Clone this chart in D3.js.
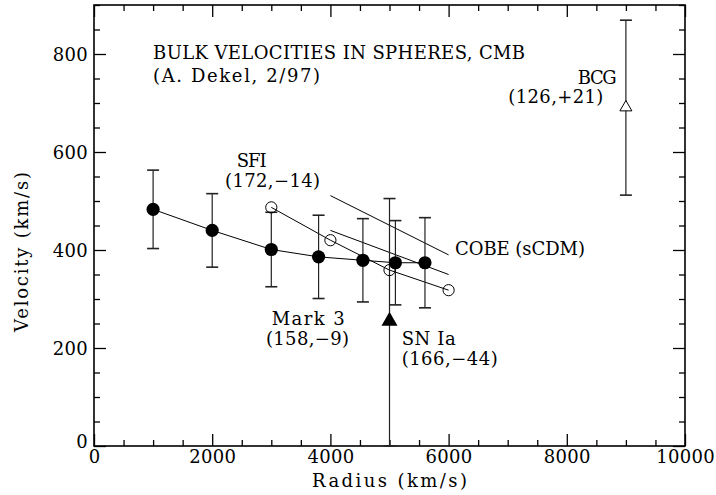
<!DOCTYPE html>
<html>
<head>
<meta charset="utf-8">
<script src="https://cdn.jsdelivr.net/npm/d3@7"></script>
<style>
  html, body { margin: 0; padding: 0; background: #fff; }
  svg { display: block; }
  text { font-family: "DejaVu Serif", "Liberation Serif", serif; fill: #000; }
</style>
</head>
<body>
<svg id="chart" width="716" height="495"></svg>
<script>
// Mark 3 bulk velocities (filled circles)
const mark3Radius = [1000, 2000, 3000, 3800, 4550, 5100, 5600];
const mark3Velocity = [483, 440, 401, 386, 379, 374, 374];
const mark3Error = [80, 75, 76, 85, 85, 86, 92];

// SFI bulk velocities (open circles)
const sfiRadius = [3000, 4000, 5000, 6000];
const sfiVelocity = [487, 420, 359, 318];

// COBE-normalised sCDM expectation (two bounding lines)
const cobeRadius = [4000, 6000];
const cobeUpper = [511, 390];
const cobeLower = [440, 350];

// SN Ia (filled triangle) with its range
const snRadius = [5000];
const snVelocity = [255];
const snLow = [0];
const snHigh = [505];

// BCG (open triangle) with its range
const bcgRadius = [9000];
const bcgVelocity = [691];
const bcgLow = [512];
const bcgHigh = [869];

// Axis ticks
const xMajorTicks = [0, 2000, 4000, 6000, 8000, 10000];
const yMajorTicks = [0, 200, 400, 600, 800];

const svg = d3.select("#chart");
const x = d3.scaleLinear().domain([0, 10000]).range([94, 685]);
const y = d3.scaleLinear().domain([0, 900]).range([446, 5]);

const xMinor = d3.range(0, 10001, 500).filter(v => v % 2000 !== 0);
const yMinor = d3.range(0, 901, 50).filter(v => v % 200 !== 0);

// Inward ticks on all four sides
function ticks(axisFn, scale, pos, vals, size, labelled) {
  const a = axisFn(scale).tickValues(vals).tickSizeInner(-size).tickSizeOuter(0)
    .tickFormat(labelled ? d3.format("d") : "");
  const g = svg.append("g").attr("transform", pos).call(a);
  g.select(".domain").remove();
  g.selectAll("line").attr("stroke", "#000").attr("stroke-width", 1.3);
  return g;
}
const bx = ticks(d3.axisBottom, x, "translate(0,446)", xMajorTicks, 12, true);
ticks(d3.axisBottom, x, "translate(0,446)", xMinor, 6, false);
ticks(d3.axisTop, x, "translate(0,5)", xMajorTicks, 12, false);
ticks(d3.axisTop, x, "translate(0,5)", xMinor, 6, false);
const ly = ticks(d3.axisLeft, y, "translate(94,0)", yMajorTicks, 12, true);
ticks(d3.axisLeft, y, "translate(94,0)", yMinor, 6, false);
ticks(d3.axisRight, y, "translate(685,0)", yMajorTicks, 12, false);
ticks(d3.axisRight, y, "translate(685,0)", yMinor, 6, false);

bx.selectAll("text")
  .attr("y", 17).attr("dy", 0)
  .style("font-size", "18px").style("letter-spacing", "0.3px")
  .style("font-family", "'DejaVu Serif', serif").attr("fill", "#000");
ly.selectAll("text")
  .attr("x", -6).attr("dy", "0.36em")
  .style("font-size", "18px").style("letter-spacing", "0.3px")
  .style("font-family", "'DejaVu Serif', serif").attr("fill", "#000");
// the zero label on the velocity axis sits slightly above the corner
ly.selectAll("text").filter(d => d === 0).attr("dy", "0.1em");

// Frame
svg.append("rect")
  .attr("x", x(0)).attr("y", y(900))
  .attr("width", x(10000) - x(0)).attr("height", y(0) - y(900))
  .attr("fill", "none").attr("stroke", "#000").attr("stroke-width", 1.6);

// Axis titles
svg.append("text")
  .attr("x", x(5000)).attr("y", 487)
  .attr("text-anchor", "middle")
  .attr("textLength", 155)
  .style("font-size", "18px")
  .text("Radius (km/s)");
svg.append("text")
  .attr("transform", `translate(28,${y(396)}) rotate(-90)`)
  .attr("text-anchor", "middle")
  .attr("textLength", 160)
  .style("font-size", "18px")
  .text("Velocity (km/s)");

const line = d3.line().x(d => x(d[0])).y(d => y(d[1]));
const plot = svg.append("g");

// COBE lines
[cobeUpper, cobeLower].forEach(vals => {
  plot.append("path")
    .attr("d", line(d3.zip(cobeRadius, vals)))
    .attr("fill", "none").attr("stroke", "#000").attr("stroke-width", 1);
});

// Connecting lines
plot.append("path")
  .attr("d", line(d3.zip(mark3Radius, mark3Velocity)))
  .attr("fill", "none").attr("stroke", "#000").attr("stroke-width", 1);
plot.append("path")
  .attr("d", line(d3.zip(sfiRadius, sfiVelocity)))
  .attr("fill", "none").attr("stroke", "#000").attr("stroke-width", 1);

// Error bars
function errorBar(r, lo, hi) {
  const g = plot.append("g").attr("stroke", "#222").attr("stroke-width", 1.2);
  g.append("line").attr("x1", x(r)).attr("x2", x(r)).attr("y1", y(lo)).attr("y2", y(hi));
  [lo, hi].forEach(v => {
    g.append("line").attr("x1", x(r) - 6).attr("x2", x(r) + 6)
      .attr("y1", y(v)).attr("y2", y(v)).attr("stroke-width", 1.6);
  });
}
mark3Radius.forEach((r, i) => errorBar(r, mark3Velocity[i] - mark3Error[i], mark3Velocity[i] + mark3Error[i]));
snRadius.forEach((r, i) => errorBar(r, snLow[i], snHigh[i]));
bcgRadius.forEach((r, i) => errorBar(r, bcgLow[i], bcgHigh[i]));

// Markers
plot.selectAll(".m3").data(d3.zip(mark3Radius, mark3Velocity)).join("circle")
  .attr("cx", d => x(d[0])).attr("cy", d => y(d[1])).attr("r", 6.6).attr("fill", "#000");
plot.selectAll(".sfi").data(d3.zip(sfiRadius, sfiVelocity)).join("circle")
  .attr("cx", d => x(d[0])).attr("cy", d => y(d[1])).attr("r", 5.6)
  .attr("fill", "none").attr("stroke", "#000").attr("stroke-width", 1);
const triBig = d3.symbol(d3.symbolTriangle, 16 * 16 * Math.sqrt(3) / 4);
const triSmall = d3.symbol(d3.symbolTriangle, 12 * 12 * Math.sqrt(3) / 4);
plot.selectAll(".sn").data(d3.zip(snRadius, snVelocity)).join("path")
  .attr("transform", d => `translate(${x(d[0])},${y(d[1])})`)
  .attr("d", triBig).attr("fill", "#000");
plot.selectAll(".bcg").data(d3.zip(bcgRadius, bcgVelocity)).join("path")
  .attr("transform", d => `translate(${x(d[0])},${y(d[1])})`)
  .attr("d", triSmall).attr("fill", "#fff").attr("stroke", "#000").attr("stroke-width", 1);

// Annotations, placed in data coordinates
const notes = [
  { text: "BULK VELOCITIES IN SPHERES, CMB", r: 1000, v: 789, anchor: "start", len: 372 },
  { text: "(A. Dekel, 2/97)", r: 1000, v: 742, anchor: "start", len: 167 },
  { text: "SFI", r: 2414, v: 570, anchor: "start", len: 30 },
  { text: "(172,\u221214)", r: 2217, v: 529, anchor: "start", len: 95 },
  { text: "COBE (sCDM)", r: 6108, v: 390, anchor: "start", len: 130 },
  { text: "Mark 3", r: 3007, v: 247, anchor: "start", len: 73 },
  { text: "(158,\u22129)", r: 2910, v: 206, anchor: "start", len: 83 },
  { text: "SN Ia", r: 5206, v: 207, anchor: "start", len: 54 },
  { text: "(166,\u221244)", r: 5206, v: 165, anchor: "start", len: 96 },
  { text: "BCG", r: 8844, v: 739, anchor: "end", len: 39 },
  { text: "(126,+21)", r: 8618, v: 699, anchor: "end", len: 95 }
];
svg.append("g").selectAll("text").data(notes).join("text")
  .attr("x", d => x(d.r)).attr("y", d => y(d.v))
  .attr("text-anchor", d => d.anchor)
  .attr("textLength", d => d.len)
  .style("font-size", "18px")
  .text(d => d.text);
</script>
</body>
</html>
